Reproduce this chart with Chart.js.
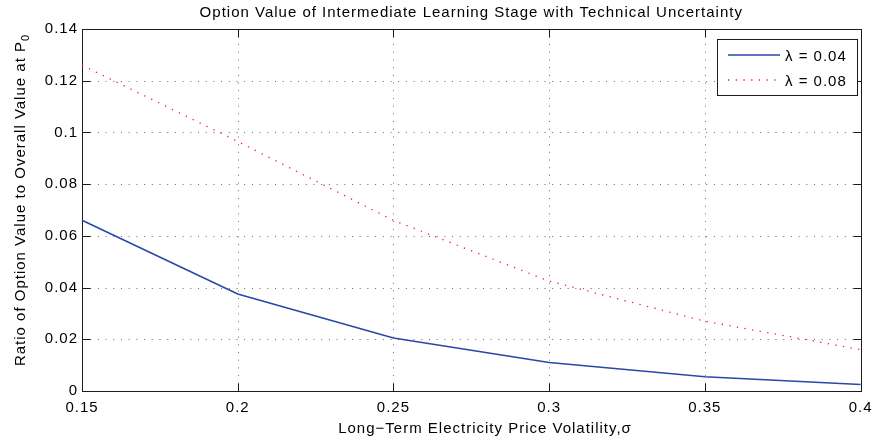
<!DOCTYPE html>
<html>
<head>
<meta charset="utf-8">
<script src="https://cdn.jsdelivr.net/npm/chart.js@4.4.1/dist/chart.umd.min.js"></script>
<style>
  html, body { margin: 0; padding: 0; background: #fff; }
  #wrap { width: 879px; height: 443px; }
</style>
</head>
<body>
<div id="wrap"><canvas id="chart"></canvas></div>
<script>
// volatility grid and option value ratios for the two learning rates
const sigma = [0.15, 0.2, 0.25, 0.3, 0.35, 0.4];
const ratioLambda004 = [0.066, 0.0375, 0.0205, 0.011, 0.0055, 0.0025];
const ratioLambda008 = [0.126, 0.0965, 0.066, 0.0425, 0.027, 0.016];
const seriesLabels = ['λ = 0.04', 'λ = 0.08'];

const xTicks = [0.15, 0.2, 0.25, 0.3, 0.35, 0.4];
const yTicks = [0, 0.02, 0.04, 0.06, 0.08, 0.1, 0.12, 0.14];

const chartTitle = 'Option Value of Intermediate Learning Stage with Technical Uncertainty';
const xTitle = 'Long−Term Electricity Price Volatility,σ';
const yTitle = 'Ratio of Option Value to Overall Value at P';
const yTitleSub = '0';

const FONT = '"Liberation Sans", Arial, Helvetica, sans-serif';
const AXIS_COLOR = '#1a1a1a';
const BLUE = 'rgb(40,72,168)';
const RED = 'rgb(255,30,30)';
const RED_DASH = [1.3, 6.4];

const fmt = v => String(Number(v.toFixed(2)));

function line(ctx, x1, y1, x2, y2) {
    ctx.beginPath();
    ctx.moveTo(x1, y1);
    ctx.lineTo(x2, y2);
    ctx.stroke();
}

// matlab style box, dotted grid, inward ticks, legend and titles
const matlabAxes = {
    id: 'matlabAxes',
    beforeDraw(chart) {
        chart.ctx.letterSpacing = '1px';
    },
    beforeDatasetsDraw(chart) {
        const { ctx, chartArea: a, scales: { x, y } } = chart;
        const L = Math.round(a.left) + 0.5, R = Math.round(a.right) + 0.5;
        const T = Math.round(a.top) + 0.5, B = Math.round(a.bottom) + 0.5;
        ctx.save();
        ctx.letterSpacing = '0px';

        ctx.strokeStyle = 'rgba(0,0,0,0.6)';
        ctx.lineWidth = 1;
        ctx.setLineDash([1, 6.7]);
        xTicks.forEach(v => {
            const px = Math.round(x.getPixelForValue(v)) + 0.5;
            line(ctx, px, B, px, T);
        });
        yTicks.forEach(v => {
            const py = Math.round(y.getPixelForValue(v)) + 0.5;
            line(ctx, L, py, R, py);
        });

        ctx.setLineDash([]);
        ctx.strokeStyle = AXIS_COLOR;
        ctx.strokeRect(L, T, R - L, B - T);
        const tl = 8;
        xTicks.forEach(v => {
            const px = Math.round(x.getPixelForValue(v)) + 0.5;
            line(ctx, px, B, px, B - tl);
            line(ctx, px, T, px, T + tl);
        });
        yTicks.forEach(v => {
            const py = Math.round(y.getPixelForValue(v)) + 0.5;
            line(ctx, L, py, L + tl, py);
            line(ctx, R, py, R - tl, py);
        });
        ctx.restore();
    },
    afterDraw(chart) {
        const { ctx, chartArea: a } = chart;
        ctx.save();
        ctx.letterSpacing = '1px';
        ctx.fillStyle = '#000';
        ctx.font = '15px ' + FONT;

        // title
        ctx.textAlign = 'center';
        ctx.textBaseline = 'alphabetic';
        ctx.fillText(chartTitle, (a.left + a.right) / 2, 17);

        // x axis title
        ctx.fillText(xTitle, 485, 433);

        // y axis title with subscript
        ctx.save();
        ctx.translate(25, 200);
        ctx.rotate(-Math.PI / 2);
        ctx.textAlign = 'left';
        const mainW = ctx.measureText(yTitle).width;
        ctx.font = '11px ' + FONT;
        const subW = ctx.measureText(yTitleSub).width;
        const start = -(mainW + subW) / 2;
        ctx.font = '15px ' + FONT;
        ctx.fillText(yTitle, start, 0);
        ctx.font = '11px ' + FONT;
        ctx.fillText(yTitleSub, start + mainW, 4);
        ctx.restore();

        // legend
        const bx = 717.5, by = 39.5, bw = 140, bh = 56;
        ctx.fillStyle = '#fff';
        ctx.fillRect(bx, by, bw, bh);
        ctx.strokeStyle = AXIS_COLOR;
        ctx.lineWidth = 1;
        ctx.strokeRect(bx, by, bw, bh);

        const rows = [
            { label: seriesLabels[0], color: BLUE, width: 1.6, dash: [], y: 55 },
            { label: seriesLabels[1], color: RED, width: 1.3, dash: RED_DASH, y: 80 }
        ];
        rows.forEach(r => {
            ctx.strokeStyle = r.color;
            ctx.lineWidth = r.width;
            ctx.setLineDash(r.dash);
            line(ctx, 728, r.y, 780, r.y);
            ctx.setLineDash([]);
            ctx.fillStyle = '#000';
            ctx.textAlign = 'left';
            ctx.textBaseline = 'middle';
            ctx.fillText(r.label, 785, r.y + 1.5);
        });
        ctx.restore();
    }
};

new Chart(document.getElementById('chart'), {
    type: 'line',
    data: {
        datasets: [
            {
                label: seriesLabels[0],
                data: sigma.map((s, i) => ({ x: s, y: ratioLambda004[i] })),
                borderColor: BLUE,
                borderWidth: 1.6,
                pointRadius: 0,
                tension: 0,
                clip: false
            },
            {
                label: seriesLabels[1],
                data: sigma.map((s, i) => ({ x: s, y: ratioLambda008[i] })),
                borderColor: RED,
                borderWidth: 1.3,
                borderDash: RED_DASH,
                pointRadius: 0,
                tension: 0,
                clip: false
            }
        ]
    },
    plugins: [matlabAxes],
    options: {
        responsive: true,
        maintainAspectRatio: false,
        animation: false,
        events: [],
        layout: { padding: { top: 29, right: 14, left: 0, bottom: 0 } },
        plugins: {
            legend: { display: false },
            title: { display: false },
            tooltip: { enabled: false }
        },
        scales: {
            x: {
                type: 'linear',
                min: 0.15,
                max: 0.4,
                afterBuildTicks: s => { s.ticks = xTicks.map(v => ({ value: v })); },
                afterFit: s => { s.height = 52; },
                grid: { display: false, drawTicks: false },
                border: { display: false },
                ticks: {
                    padding: 8,
                    color: '#000',
                    font: { family: FONT, size: 15 },
                    maxRotation: 0,
                    callback: v => fmt(v)
                }
            },
            y: {
                type: 'linear',
                min: 0,
                max: 0.14,
                afterBuildTicks: s => { s.ticks = yTicks.map(v => ({ value: v })); },
                afterFit: s => { s.width = 82; },
                grid: { display: false, drawTicks: false },
                border: { display: false },
                ticks: {
                    padding: 4,
                    color: '#000',
                    font: { family: FONT, size: 15 },
                    callback: v => fmt(v)
                }
            }
        }
    }
});
</script>
</body>
</html>
